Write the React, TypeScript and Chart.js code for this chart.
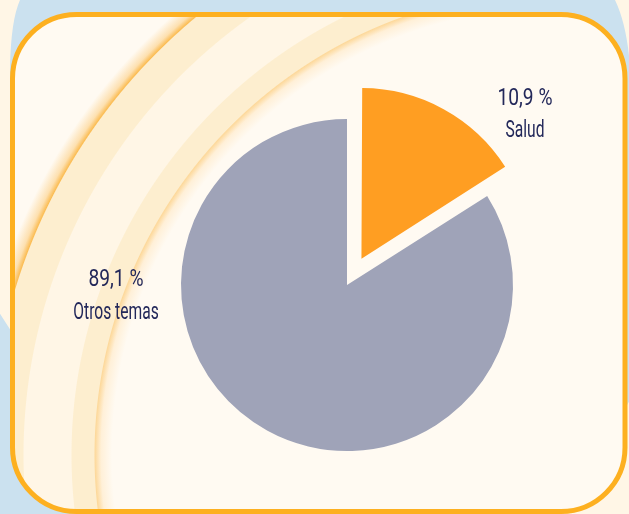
import React, { useEffect, useRef } from "react";
import { Chart, registerables } from "chart.js";

Chart.register(...registerables);

// ---- data ----
const categories = ["Salud", "Otros temas"];
// slice sizes as drawn in the reference picture (percent of the circle)
const drawnShare = [16.0, 84.0];
// printed labels, as written in the reference
const percentLabels = ["10,9 %", "89,1 %"];
const sliceColors = ["#ff9e22", "#9fa3b8"];
const sliceOffsets = [120, 0];

// ---- styling / layout ----
const W = 629;
const H = 514;
const TEXT_COLOR = "#23285a";
const LABEL_POS = [
  { x: 525, y: 105, gap: 32 },
  { x: 116, y: 286, gap: 33 },
];
const NUM_SCALE = 0.8;
const NAME_SCALE = 0.65;
const FONT = "400 24px Roboto, 'Liberation Sans', sans-serif";

function roundRectPath(ctx: CanvasRenderingContext2D, x: number, y: number, w: number, h: number, r: number) {
  ctx.beginPath();
  ctx.moveTo(x + r, y);
  ctx.lineTo(x + w - r, y);
  ctx.arcTo(x + w, y, x + w, y + r, r);
  ctx.lineTo(x + w, y + h - r);
  ctx.arcTo(x + w, y + h, x + w - r, y + h, r);
  ctx.lineTo(x + r, y + h);
  ctx.arcTo(x, y + h, x, y + h - r, r);
  ctx.lineTo(x, y + r);
  ctx.arcTo(x, y, x + r, y, r);
  ctx.closePath();
}

const bgPlugin = {
  id: "bgDecor",
  beforeDraw(chart: any) {
    const ctx: CanvasRenderingContext2D = chart.ctx;
    ctx.save();
    ctx.fillStyle = "#fff6e6";
    ctx.fillRect(0, 0, W, H);

    // light blue backdrop
    ctx.beginPath();
    ctx.moveTo(20, 0);
    ctx.lineTo(615, 0);
    ctx.quadraticCurveTo(627, 25, 630, 67);
    ctx.lineTo(630, 400);
    ctx.lineTo(560, 520);
    ctx.lineTo(-5, 520);
    ctx.lineTo(-5, 306);
    ctx.lineTo(13, 334);
    ctx.lineTo(13, 200);
    ctx.lineTo(10, 67);
    ctx.quadraticCurveTo(11, 20, 20, 0);
    ctx.closePath();
    ctx.fillStyle = "#cbe1ef";
    ctx.fill();

    // frame fill
    const fx = 12.5, fy = 14.5, fw = 612.5, fh = 497, fr = 64;
    roundRectPath(ctx, fx, fy, fw, fh, fr);
    ctx.fillStyle = "#fffaf2";
    ctx.fill();

    ctx.save();
    ctx.clip();
    const cx = 560, cy = 455, R = 620;
    const s = (r: number) => r / R;
    const g = ctx.createRadialGradient(cx, cy, 0, cx, cy, R);
    g.addColorStop(0, "#fffaf2");
    g.addColorStop(s(448), "#fffaf2");
    g.addColorStop(s(459), "#fff0d8");
    g.addColorStop(s(465), "#fdd99c");
    g.addColorStop(s(466), "#fdeecf");
    g.addColorStop(s(488), "#fdeecf");
    g.addColorStop(s(489), "#fff6e6");
    g.addColorStop(s(536), "#fff6e6");
    g.addColorStop(s(537), "#fdeecf");
    g.addColorStop(s(569), "#fdeecf");
    g.addColorStop(s(570), "#fbbd55");
    g.addColorStop(s(575), "#fde0b0");
    g.addColorStop(s(586), "#fffaf2");
    g.addColorStop(1, "#fffaf2");
    ctx.fillStyle = g;
    ctx.fillRect(0, 0, W, H);
    ctx.restore();

    roundRectPath(ctx, fx, fy, fw, fh, fr);
    ctx.lineWidth = 5;
    ctx.strokeStyle = "#fdb020";
    ctx.stroke();
    ctx.restore();
  },
};

function drawScaled(ctx: CanvasRenderingContext2D, text: string, x: number, y: number, sx: number) {
  ctx.save();
  ctx.translate(x, y);
  ctx.scale(sx, 1);
  ctx.font = FONT;
  ctx.fillStyle = TEXT_COLOR;
  ctx.textAlign = "center";
  ctx.textBaseline = "alphabetic";
  ctx.fillText(text, 0, 0);
  ctx.restore();
}

const labelPlugin = {
  id: "sliceLabels",
  afterDraw(chart: any) {
    const ctx: CanvasRenderingContext2D = chart.ctx;
    categories.forEach((name, i) => {
      const p = LABEL_POS[i];
      drawScaled(ctx, percentLabels[i], p.x, p.y, NUM_SCALE);
      drawScaled(ctx, name, p.x, p.y + p.gap, NAME_SCALE);
    });
  },
};

export default function App() {
  const ref = useRef<HTMLCanvasElement | null>(null);
  useEffect(() => {
    if (!ref.current) return;
    const chart = new Chart(ref.current, {
      type: "pie",
      data: {
        labels: categories,
        datasets: [
          {
            data: drawnShare,
            backgroundColor: sliceColors,
            borderWidth: 0,
            offset: sliceOffsets,
            hoverOffset: 0,
            clip: false as any,
          } as any,
        ],
      },
      options: {
        responsive: false,
        animation: false,
        devicePixelRatio: 1,
        radius: 166,
        layout: { padding: { left: 65, top: 56, right: 0, bottom: 0 } },
        plugins: {
          legend: { display: false },
          tooltip: { enabled: false },
        },
        events: [],
      } as any,
      plugins: [bgPlugin, labelPlugin],
    });
    return () => chart.destroy();
  }, []);
  return (
    <div style={{ position: "fixed", left: 0, top: 0, width: W, height: H }}>
      <canvas ref={ref} width={W} height={H} style={{ display: "block", width: W, height: H }} />
    </div>
  );
}
